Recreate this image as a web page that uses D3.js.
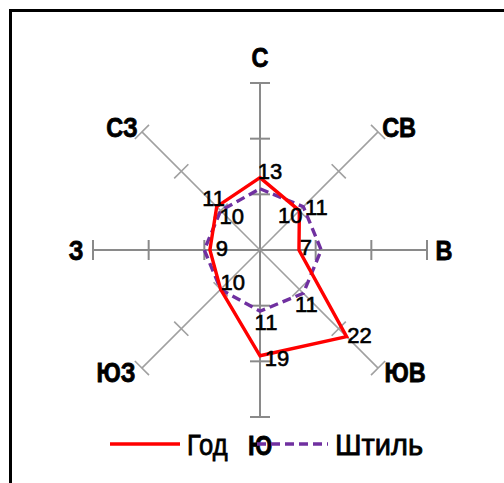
<!DOCTYPE html>
<html><head><meta charset="utf-8">
<script src="https://cdn.jsdelivr.net/npm/d3@7"></script>
<style>html,body{margin:0;padding:0;background:#fff;overflow:hidden}</style>
</head><body>
<svg id="chart" width="504" height="483"></svg>
<script>
// ---- data ----
const directions = ["С","СВ","В","ЮВ","Ю","ЮЗ","З","СЗ"];
const godValues = [13,10,7,22,19,10,9,11];
const shtilValues = [11,11,11,11,11,10,10,10];
const seriesNames = ["Год","Штиль"];
const tickValues = [10,20,30];
const shtilLabelShown = [false,true,false,true,true,false,false,true];

// ---- layout / style config ----
const cx = 260, cy = 250, R = 167, maxV = 30;
const godLabelOffsets = [[10,-7],[-9,4],[7,-3],[13,-2],[17,2],[12,-7],[12,-2],[-3,-9]];
const shtilLabelOffsets = [[0,0],[13,0],[0,0],[3,11],[6,11],[0,0],[0,0],[11,5]];
const dirLabelOffsets = [[0,-26],[21,-4],[17,0],[27,4],[0,28],[-26,4],[-17,0],[-20,-4]];

const svg = d3.select("#chart");
const r = d3.scaleLinear().domain([0,maxV]).range([0,R]);
const angle = d3.scalePoint().domain(directions).range([0, 2*Math.PI*(7/8)]);
const pt = (d,v) => { const a = angle(d); return [cx + r(v)*Math.sin(a), cy - r(v)*Math.cos(a)]; };

// frame
svg.append("rect").attr("x",10.5).attr("y",10.5).attr("width",700).attr("height",700)
  .attr("fill","none").attr("stroke","#000").attr("stroke-width",3);

// axes
directions.forEach((d,i)=>{
  const diag = i%2===1;
  const col = diag ? "#a0a0a0" : "#8a8a8a";
  const sw = diag ? 1.6 : 2;
  const [x2,y2] = pt(d,maxV);
  svg.append("line").attr("x1",cx).attr("y1",cy).attr("x2",x2).attr("y2",y2)
    .attr("stroke",col).attr("stroke-width",sw);
  const a = angle(d);
  tickValues.forEach(t=>{
    const [tx,ty] = pt(d,t);
    const px = Math.cos(a)*10, py = Math.sin(a)*10;
    svg.append("line").attr("x1",tx-px).attr("y1",ty-py).attr("x2",tx+px).attr("y2",ty+py)
      .attr("stroke",col).attr("stroke-width",sw);
  });
});

// direction labels
directions.forEach((d,i)=>{
  const [x,y] = pt(d,maxV);
  const [dx,dy] = dirLabelOffsets[i];
  svg.append("text").attr("transform",`translate(${x+dx},${y+dy+9.5}) scale(0.87,1)`)
    .attr("text-anchor","middle").attr("font-family","Liberation Sans, Arial, sans-serif")
    .attr("font-weight","bold").attr("font-size",27).attr("fill","#000")
    .attr("stroke","#000").attr("stroke-width",0.8).text(d);
});

const line = d3.line().curve(d3.curveLinearClosed);
// series
svg.append("path").attr("d", line(directions.map((d,i)=>pt(d,shtilValues[i]))))
  .attr("fill","none").attr("stroke","#7030a0").attr("stroke-width",3.4)
  .attr("stroke-dasharray","9,5");
svg.append("path").attr("d", line(directions.map((d,i)=>pt(d,godValues[i]))))
  .attr("fill","none").attr("stroke","#ff0000").attr("stroke-width",3.4)
  .attr("stroke-linejoin","miter");

// data labels
const lblFont = "Liberation Sans, Arial, sans-serif";
function addLabel(d,v,off){
  const [x,y] = pt(d,v);
  svg.append("text").attr("x",x+off[0]).attr("y",y+off[1]+8)
    .attr("text-anchor","middle").attr("font-family",lblFont).attr("font-size",22)
    .attr("fill","#000").attr("stroke","#000").attr("stroke-width",0.6).text(v);
}
directions.forEach((d,i)=>addLabel(d,godValues[i],godLabelOffsets[i]));
directions.forEach((d,i)=>{ if(shtilLabelShown[i]) addLabel(d,shtilValues[i],shtilLabelOffsets[i]); });

// legend
const lg = svg.append("g");
lg.append("line").attr("x1",110).attr("x2",180).attr("y1",444).attr("y2",444)
  .attr("stroke","#ff0000").attr("stroke-width",3.4);
lg.append("text").attr("transform","translate(187,455) scale(0.88,1)").attr("font-family",lblFont).attr("font-size",29)
  .attr("stroke","#000").attr("stroke-width",0.8).text(seriesNames[0]);
lg.append("line").attr("x1",257).attr("x2",328).attr("y1",444).attr("y2",444)
  .attr("stroke","#7030a0").attr("stroke-width",3.4).attr("stroke-dasharray","9,5");
lg.append("text").attr("x",335).attr("y",455).attr("font-family",lblFont).attr("font-size",29)
  .attr("stroke","#000").attr("stroke-width",0.8).text(seriesNames[1]);
</script>
</body></html>
